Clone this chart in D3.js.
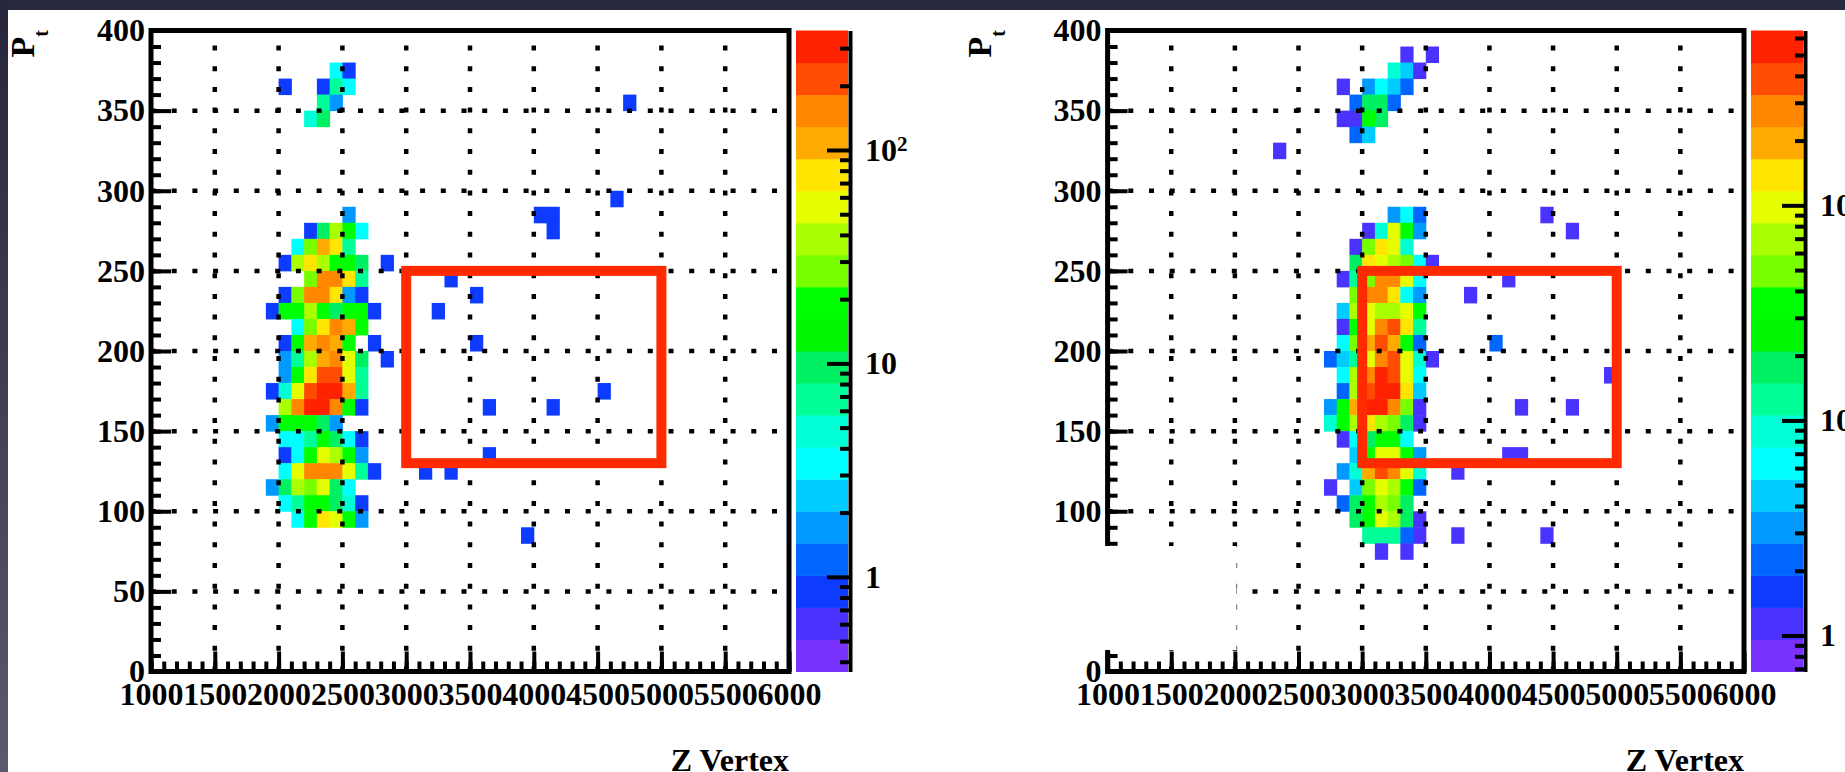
<!DOCTYPE html>
<html>
<head>
<meta charset="utf-8">
<script src="https://cdn.jsdelivr.net/npm/d3@7/dist/d3.min.js"></script>
<style>
  body { margin: 0; background: #fff; overflow: hidden; }
  text { font-family: "Liberation Serif", "Times New Roman", serif; font-weight: bold; font-size: 32px; fill: #000; }
</style>
</head>
<body>
<script>
// Histogram contents: [pt bin low edge, z of first bin, counts in consecutive 100-wide z bins]
const leftRows = [
  [370, 2400, [3, 1]],
  [360, 2000, [1, 0, 0, 1, 7, 3]],
  [350, 2300, [7, 2]],
  [350, 4700, [1]],
  [340, 2200, [5, 10]],
  [290, 4600, [1]],
  [280, 2500, [2]],
  [280, 4000, [1, 1]],
  [270, 2200, [1, 10, 38, 19, 3]],
  [270, 4100, [1]],
  [260, 2100, [3, 27, 108, 76, 7]],
  [250, 2000, [1, 38, 76, 38, 19, 19, 10, 0, 1]],
  [240, 2200, [27, 152, 152, 76, 7]],
  [240, 3300, [1]],
  [230, 2000, [1, 27, 152, 152, 76, 2, 1]],
  [230, 3500, [1]],
  [220, 1900, [1, 19, 19, 38, 19, 10, 19, 19, 1]],
  [220, 3200, [1]],
  [210, 2100, [3, 27, 76, 152, 108, 19]],
  [200, 2000, [1, 19, 108, 152, 108, 19, 0, 1]],
  [200, 3500, [1]],
  [190, 2000, [2, 7, 38, 108, 152, 54, 10, 0, 1]],
  [180, 2000, [2, 19, 76, 215, 215, 54, 7]],
  [170, 1900, [1, 5, 54, 215, 300, 300, 108, 7]],
  [170, 4500, [1]],
  [160, 2000, [38, 152, 300, 300, 152, 19, 1]],
  [160, 3600, [1]],
  [160, 4100, [1]],
  [150, 1900, [2, 19, 19, 19, 10, 2]],
  [140, 2000, [3, 3, 7, 19, 10, 3, 1]],
  [130, 2000, [1, 3, 19, 54, 38, 19, 2]],
  [130, 3600, [1]],
  [120, 2000, [3, 54, 152, 152, 152, 54, 7, 1]],
  [120, 3100, [1, 0, 1]],
  [110, 1900, [2, 10, 38, 27, 54, 10, 3]],
  [100, 2000, [3, 7, 19, 19, 10, 5, 1]],
  [90, 2100, [3, 19, 76, 54, 19, 2]],
  [80, 3900, [1]]
];

const rightRows = [
  [380, 3300, [1, 0, 1]],
  [370, 3200, [9, 5, 1]],
  [360, 2800, [1, 0, 3, 6, 5, 2]],
  [350, 2900, [2, 18, 18, 2]],
  [340, 2800, [1, 1, 36, 18]],
  [330, 2900, [2, 5]],
  [320, 2300, [1]],
  [280, 3200, [3, 6, 2]],
  [280, 4400, [1]],
  [270, 3000, [1, 9, 100, 36, 3]],
  [270, 4600, [1]],
  [260, 2900, [1, 50, 140, 100, 9]],
  [250, 2900, [18, 140, 100, 72, 50, 6, 1]],
  [240, 2800, [1, 13, 50, 280, 280, 100, 6]],
  [240, 4100, [1]],
  [230, 2900, [50, 280, 280, 140, 6, 3]],
  [230, 3800, [1]],
  [220, 2800, [5, 72, 100, 72, 72, 100, 36]],
  [210, 2800, [1, 36, 100, 280, 400, 140, 13]],
  [200, 2800, [6, 50, 200, 400, 200, 36, 2]],
  [200, 4000, [2]],
  [190, 2700, [2, 5, 13, 100, 280, 400, 100, 9, 1]],
  [180, 2800, [6, 72, 280, 560, 400, 100, 6]],
  [180, 4900, [1]],
  [170, 2800, [2, 72, 400, 560, 560, 140, 5]],
  [160, 2700, [3, 36, 200, 560, 560, 280, 50, 1]],
  [160, 4200, [1]],
  [160, 4600, [1]],
  [150, 2700, [9, 36, 72, 140, 72, 50, 18, 1]],
  [140, 2800, [1, 6, 18, 36, 36, 6]],
  [130, 2900, [5, 36, 100, 100, 36, 3]],
  [130, 4100, [1, 1]],
  [120, 2800, [3, 9, 200, 400, 280, 100, 9]],
  [120, 3700, [1]],
  [110, 2700, [1, 0, 5, 50, 100, 72, 36, 2]],
  [100, 2800, [2, 18, 36, 72, 50, 18]],
  [90, 2900, [18, 36, 100, 72, 18, 1]],
  [80, 3000, [13, 13, 13, 2, 1]],
  [80, 3700, [1]],
  [80, 4400, [1]],
  [70, 3100, [1, 0, 1]]
];

// colour (z) axis ranges of the two pads
const leftZRange = [0.36, 363];
const rightZRange = [0.68, 650];

// axis ticks
const zMajor = d3.range(1000, 6001, 500);
const zMinor = d3.range(1000, 6001, 100);
const ptMajor = d3.range(0, 401, 50);
const ptMinor = d3.range(0, 401, 10);
const zGrid = d3.range(1500, 5600, 500);
const ptGrid = d3.range(50, 360, 50);
const colDecades = [1, 10, 100];

// signal region drawn in red
const cutZ = [3000, 5000];
const cutPt = [130, 250];

const zBin = 100, ptBin = 10;

// ROOT rainbow palette, 20 contour levels
const palette = ["#7a33ff", "#4a33ff", "#0d3bff", "#0066ff", "#0099ff", "#00ccff", "#00ffff", "#00ffd5",
  "#00ff99", "#00f064", "#00f500", "#00ff00", "#77ff00", "#aaff00", "#e6ff00", "#ffe600",
  "#ffaa00", "#ff8800", "#ff4c00", "#ff2200"];

const W = 1845, H = 772;
const svg = d3.select("body").append("svg").attr("width", W).attr("height", H);

// dark slide border (top and left)
let grad = svg.append("defs").append("linearGradient").attr("id", "edge")
  .attr("x1", 0).attr("y1", 0).attr("x2", 0).attr("y2", 1);
grad.append("stop").attr("offset", 0).attr("stop-color", "#25253c");
grad.append("stop").attr("offset", 1).attr("stop-color", "#5a5a6a");
svg.append("rect").attr("x", 0).attr("y", 0).attr("width", W).attr("height", 10).attr("fill", "#27273e");
svg.append("rect").attr("x", 0).attr("y", 0).attr("width", 8).attr("height", H).attr("fill", "url(#edge)");

let frameY = [671.5, 30.5];

let panels = [
  { rows: leftRows, zr: leftZRange, fx: [151, 789], bar: [796, 848], mask: null },
  { rows: rightRows, zr: rightZRange, fx: [1107.6, 1744], bar: [1751, 1803], mask: [1050, 546, 1236.5, 650] }
];

function styleAxis(g, width) {
  g.attr("font-family", null).attr("font-size", null);
  g.selectAll(".tick line").attr("stroke-width", width);
}

function drawPanel(p) {
  let g = svg.append("g");
  let x = d3.scaleLinear().domain([1000, 6000]).range(p.fx);
  let y = d3.scaleLinear().domain([0, 400]).range(frameY);
  let col = d3.scaleQuantize().domain(p.zr.map(Math.log10)).range(palette);

  // histogram bins
  let cells = p.rows.flatMap(([pt, z0, counts]) =>
    counts.map((c, i) => ({ z: z0 + i * zBin, pt: pt, c: c }))).filter(d => d.c > 0);

  g.selectAll("rect.cell").data(cells).join("rect")
    .attr("class", "cell")
    .attr("x", d => x(d.z))
    .attr("y", d => y(d.pt + ptBin))
    .attr("width", d => x(d.z + zBin) - x(d.z) + 0.5)
    .attr("height", d => y(d.pt) - y(d.pt + ptBin) + 0.5)
    .attr("fill", d => col(Math.log10(d.c)));

  // dotted grid
  g.selectAll("line.gx").data(zGrid).join("line")
    .attr("x1", d => x(d)).attr("x2", d => x(d))
    .attr("y1", y(0)).attr("y2", y(400))
    .attr("stroke", "#000").attr("stroke-width", 4.5).attr("stroke-dasharray", "5 15.7");
  g.selectAll("line.gy").data(ptGrid).join("line")
    .attr("x1", x(1000)).attr("x2", x(6000))
    .attr("y1", d => y(d)).attr("y2", d => y(d))
    .attr("stroke", "#000").attr("stroke-width", 4.5).attr("stroke-dasharray", "5 15.7");

  // x axis, ticks pointing into the pad
  let xa = g.append("g").attr("transform", "translate(0," + y(0) + ")")
    .call(d3.axisBottom(x).tickValues(zMajor).tickSizeInner(-20).tickSizeOuter(0)
      .tickPadding(11).tickFormat(d3.format("d")));
  xa.select(".domain").remove();
  styleAxis(xa, 4);
  let xm = g.append("g").attr("transform", "translate(0," + y(0) + ")")
    .call(d3.axisBottom(x).tickValues(zMinor).tickSize(-10).tickFormat(""));
  xm.select(".domain").remove();
  styleAxis(xm, 4);

  // y axis
  let ya = g.append("g").attr("transform", "translate(" + x(1000) + ",0)")
    .call(d3.axisLeft(y).tickValues(ptMajor).tickSizeInner(-20).tickSizeOuter(0)
      .tickPadding(6).tickFormat(d3.format("d")));
  ya.select(".domain").remove();
  styleAxis(ya, 4);
  let ym = g.append("g").attr("transform", "translate(" + x(1000) + ",0)")
    .call(d3.axisLeft(y).tickValues(ptMinor).tickSize(-10).tickFormat(""));
  ym.select(".domain").remove();
  styleAxis(ym, 4);

  // frame
  g.append("rect")
    .attr("x", x(1000)).attr("y", y(400))
    .attr("width", x(6000) - x(1000)).attr("height", y(0) - y(400))
    .attr("fill", "none").attr("stroke", "#000").attr("stroke-width", 5);

  // signal box
  g.append("rect")
    .attr("x", x(cutZ[0])).attr("y", y(cutPt[1]))
    .attr("width", x(cutZ[1]) - x(cutZ[0])).attr("height", y(cutPt[0]) - y(cutPt[1]))
    .attr("fill", "none").attr("stroke", "#ff2a00").attr("stroke-width", 10);

  // patch of white pasted over the lower-left corner on the slide
  if (p.mask) {
    g.append("rect")
      .attr("x", p.mask[0]).attr("y", p.mask[1])
      .attr("width", p.mask[2] - p.mask[0]).attr("height", p.mask[3] - p.mask[1])
      .attr("fill", "#fff");
  }

  // titles
  g.append("text").attr("x", x(6000)).attr("y", 771)
    .attr("text-anchor", "end").text("Z Vertex");
  let yt = g.append("text")
    .attr("transform", "translate(" + (x(1000) - 117) + ",30) rotate(-90)")
    .attr("text-anchor", "end").style("font-size", "34px");
  yt.append("tspan").text("P");
  yt.append("tspan").attr("dy", 14).style("font-size", "20px").text("t");

  // colour palette bar
  let zs = d3.scaleLog().domain(p.zr).range(frameY);
  g.selectAll("rect.band").data(palette).join("rect")
    .attr("class", "band")
    .attr("x", p.bar[0])
    .attr("width", p.bar[1] - p.bar[0])
    .attr("y", c => zs(Math.pow(10, col.invertExtent(c)[1])))
    .attr("height", c => zs(Math.pow(10, col.invertExtent(c)[0])) - zs(Math.pow(10, col.invertExtent(c)[1])) + 0.5)
    .attr("fill", c => c);

  let lo = Math.floor(Math.log10(p.zr[0])), hi = Math.ceil(Math.log10(p.zr[1]));
  let minor = [];
  for (let e = lo; e <= hi; e++) {
    for (let k = 2; k <= 9; k++) {
      let v = k * Math.pow(10, e);
      if (v >= p.zr[0] && v <= p.zr[1]) minor.push(v);
    }
  }
  let bx = p.bar[1] + 2;
  let cm = g.append("g").attr("transform", "translate(" + bx + ",0)")
    .call(d3.axisRight(zs).tickValues(minor).tickSize(-10).tickFormat(""));
  cm.select(".domain").remove();
  styleAxis(cm, 4);
  let ca = g.append("g").attr("transform", "translate(" + bx + ",0)")
    .call(d3.axisRight(zs).tickValues(colDecades).tickSizeInner(-23).tickSizeOuter(0)
      .tickPadding(15).tickFormat(d => d === 100 ? "10" : String(d)));
  ca.select(".domain").attr("stroke-width", 4);
  styleAxis(ca, 4);
  ca.selectAll(".tick text").filter(d => d === 100)
    .append("tspan").attr("dy", "-0.45em").style("font-size", "21px").text("2");
}

panels.forEach(drawPanel);
</script>
</body>
</html>
